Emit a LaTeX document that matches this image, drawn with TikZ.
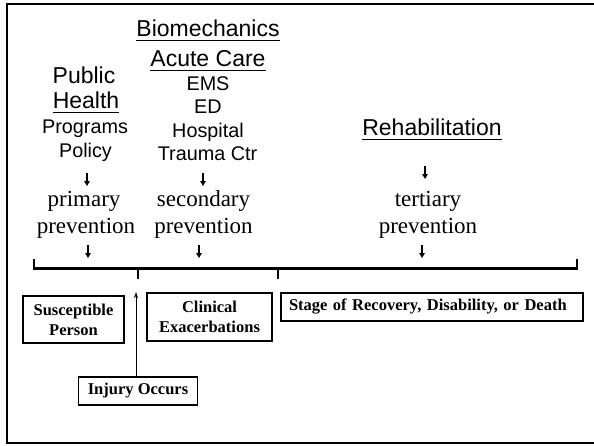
\documentclass[tikz,border=0pt]{standalone}
\usepackage{fontspec}
\setmainfont{Liberation Serif}
\setsansfont{Liberation Sans}
\usetikzlibrary{arrows.meta}
\tikzset{
  big/.style={inner sep=0pt, anchor=base, font=\sffamily\fontsize{23}{27}\selectfont},
  mid/.style={inner sep=0pt, anchor=base, font=\sffamily\fontsize{19.8}{23}\selectfont},
  prev/.style={inner sep=0pt, anchor=base, font=\rmfamily\fontsize{23}{27}\selectfont},
  box/.style={draw, line width=1.2pt, inner sep=0pt, align=center,
    font=\rmfamily\bfseries\fontsize{16.5}{20}\selectfont},
  uline/.style={line width=1.8pt},
  darrow/.style={line width=1.8pt, -{Triangle[width=5.5pt,length=5pt]}},
  bracket/.style={line width=2.7pt, line cap=rect},
  frame/.style={line width=2pt}
}
\begin{document}
\begin{tikzpicture}[x=1pt,y=-1pt]
\useasboundingbox (0,0) rectangle (594,445);
% outer frame
\draw[frame] (594,4) -- (7,4) -- (7,443) -- (594,443);

% Public health column
\node[big] (pub) at (84,83) {Public};
\node[big] (health) at (86,108) {Health};
\draw[uline] ([yshift=-4.5pt]health.base west) -- ([yshift=-4.5pt]health.base east);
\node[mid] (prog) at (85,133) {Programs};
\node[mid] (pol) at (85.5,157) {Policy};
\node[prev] (prim) at (84,206) {primary};
\node[prev] (prev1) at (86,233) {prevention};

% Biomechanics column
\node[big] (bio) at (208,36) {Biomechanics};
\draw[uline] ([yshift=-4.5pt]bio.base west) -- ([yshift=-4.5pt]bio.base east);
\node[big] (acute) at (208,66) {Acute Care};
\draw[uline] ([yshift=-4.5pt]acute.base west) -- ([yshift=-4.5pt]acute.base east);
\node[mid] (ems) at (208,90) {EMS};
\node[mid] (ed) at (208,113) {ED};
\node[mid] (hosp) at (208,137) {Hospital};
\node[mid] (trauma) at (207.5,160) {Trauma Ctr};
\node[prev] (sec) at (203.5,206) {secondary};
\node[prev] (prev2) at (203.5,233) {prevention};

% Rehabilitation column
\node[big] (rehab) at (432,135) {Rehabilitation};
\draw[uline] ([yshift=-4.5pt]rehab.base west) -- ([yshift=-4.5pt]rehab.base east);
\node[prev] (tert) at (428,206) {tertiary};
\node[prev] (prev3) at (428,233) {prevention};

% small down arrows
\coordinate (a1s) at (87,173); \coordinate (a1e) at (87,186);
\coordinate (a2s) at (203,173); \coordinate (a2e) at (203,186);
\coordinate (a3s) at (425,166); \coordinate (a3e) at (425,179);
\coordinate (b1s) at (88,245); \coordinate (b1e) at (88,258);
\coordinate (b2s) at (199,245); \coordinate (b2e) at (199,258);
\coordinate (b3s) at (422,245); \coordinate (b3e) at (422,258);
\foreach \a in {a1,a2,a3,b1,b2,b3} \draw[darrow] (\a s) -- (\a e);

% timeline bracket
\coordinate (bl) at (34,260);
\coordinate (br) at (577,260);
\draw[bracket] (bl) -- (34,268.5) -- (577,268.5) -- (br);
\draw[bracket] (138,268.5) -- (138,278);
\draw[bracket] (278,268.5) -- (278,278);

% boxes
\node[box, minimum width=101pt, minimum height=47pt] (susc) at (73.5,319.5) {Susceptible\\Person};
\node[box, minimum width=125pt, minimum height=48pt] (clin) at (209.5,317) {Clinical\\Exacerbations};
\node[box, minimum height=28pt, text width=286pt, inner xsep=8pt, align=left] (stage) at (432,307) {Stage of Recovery, Disability, or Death};
\node[box, minimum width=119pt, minimum height=28pt] (injury) at (138,391) {Injury Occurs};
\coordinate (injtip) at (136,292);
\draw[line width=0.9pt, -{Stealth[length=6pt,width=4pt]}] (injury.north -| injtip) -- (injtip);
\end{tikzpicture}
\end{document}
